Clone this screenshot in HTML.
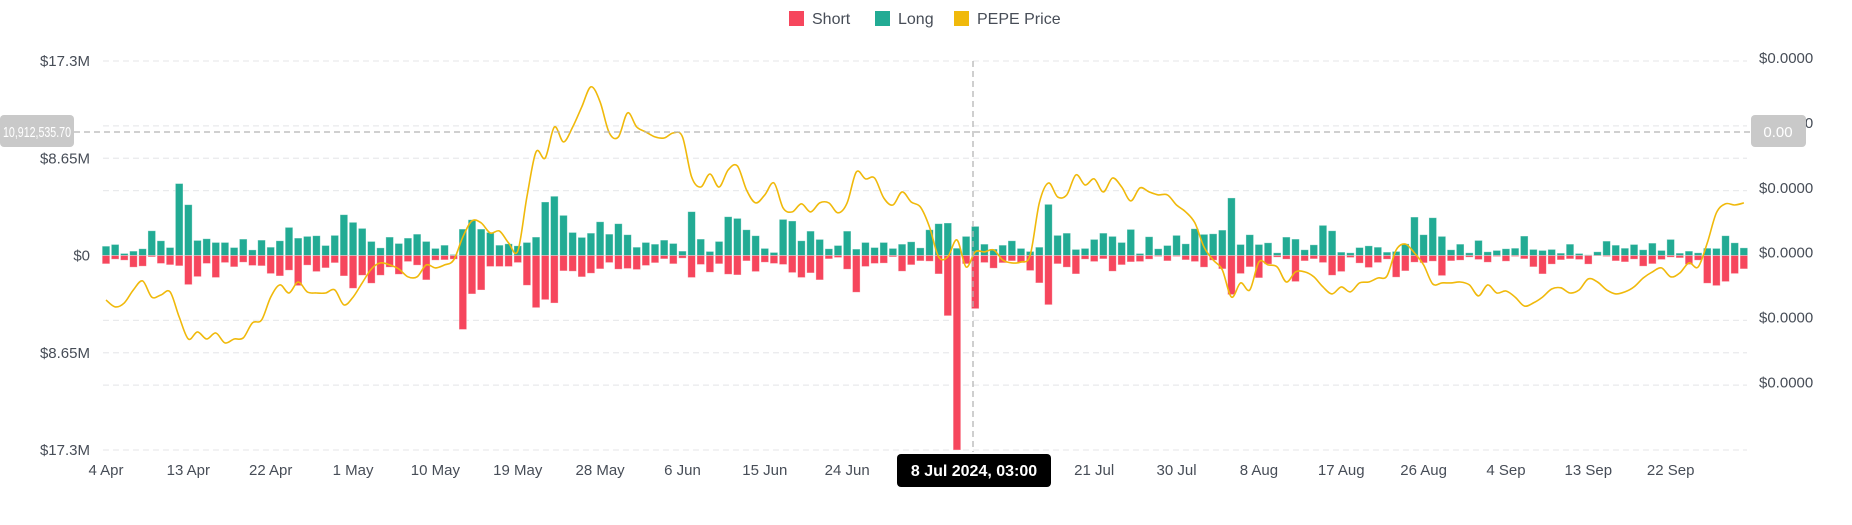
<!DOCTYPE html>
<html><head><meta charset="utf-8">
<style>
html,body{margin:0;padding:0;background:#fff;}
svg{display:block;font-family:"Liberation Sans",sans-serif;}
</style></head>
<body>
<svg id="chart" width="1852" height="525" viewBox="0 0 1852 525" xmlns="http://www.w3.org/2000/svg">
  <g id="grid"></g>
  <g id="bars"></g>
  <g id="line"></g>
  <g id="axes"></g>
  <g>
    <g>
      <rect x="789" y="11" width="15" height="15" fill="#f6465d"/>
      <text x="812" y="24" font-size="16" fill="#474d57">Short</text>
    </g>
    <g>
      <rect x="875" y="11" width="15" height="15" fill="#22ab94"/>
      <text x="898" y="24" font-size="16" fill="#474d57">Long</text>
    </g>
    <g>
      <rect x="954" y="11" width="15" height="15" fill="#f0b90b"/>
      <text x="977" y="24" font-size="16" fill="#474d57">PEPE Price</text>
    </g>
  </g>
  <g>
    <line x1="74" y1="132" x2="1751" y2="132" stroke="#b5b5b5" stroke-width="1.3" stroke-dasharray="6,4"/>
    <line x1="973" y1="61" x2="973" y2="452" stroke="#b5b5b5" stroke-width="1.3" stroke-dasharray="6,4"/>
    <rect x="0" y="115" width="74" height="32" rx="4" fill="#c9c9c9"/>
    <text x="37" y="137" font-size="15" fill="#fff" text-anchor="middle" textLength="68" lengthAdjust="spacingAndGlyphs">10,912,535.70</text>
    <rect x="1751" y="115" width="55" height="32" rx="4" fill="#c9c9c9"/>
    <text x="1778" y="137" font-size="15" fill="#fff" text-anchor="middle">0.00</text>
    <rect x="897" y="454" width="154" height="33" rx="4" fill="#000"/>
    <text x="974" y="476" font-size="16" font-weight="bold" fill="#fff" text-anchor="middle">8 Jul 2024, 03:00</text>
  </g>
</svg>
<script>
// data (values in $M for long/short; price in micro-dollars)
const longVals = [0.83,0.98,0.18,0.39,0.6,2.2,1.31,0.71,6.4,4.52,1.34,1.49,1.16,1.16,0.71,1.46,0.5,1.37,0.74,1.31,2.5,1.55,1.7,1.76,0.89,1.79,3.63,2.95,2.41,1.25,
0.68,1.64,1.07,1.55,1.9,1.25,0.63,0.92,0.09,2.35,3.18,2.35,2.05,0.92,1.04,0.86,1.16,1.64,4.76,5.27,3.57,2.05,1.61,1.99,3.0,1.9,2.83,1.85,0.74,1.16,
1.01,1.37,1.07,0.39,3.9,1.46,0.36,1.25,3.45,3.3,2.29,1.76,0.63,0.27,3.21,3.07,1.31,2.17,1.43,0.6,0.89,2.17,0.57,1.16,0.71,1.16,0.63,1.01,1.22,0.68,
2.29,2.83,2.89,0.65,1.7,2.59,1.01,0.57,0.92,1.31,0.63,0.36,0.74,4.55,1.79,1.99,0.54,0.63,1.43,1.99,1.7,1.16,2.32,0.18,1.67,0.6,0.89,1.79,1.04,2.38,
1.88,1.93,2.26,5.12,0.98,1.85,0.98,1.13,0.24,1.64,1.46,0.51,0.95,2.68,2.2,0.3,0.24,0.71,0.86,0.74,0.3,0.36,1.04,3.42,1.85,3.36,1.7,0.51,1.01,0.24,
1.34,0.33,0.45,0.6,0.65,1.73,0.54,0.45,0.54,0.21,1.01,0.18,0.06,0.33,1.28,0.92,0.65,0.98,0.51,1.1,0.45,1.43,0.21,0.39,0.24,0.65,0.63,1.76,1.13,0.68];
const shortVals = [0.74,0.33,0.42,1.04,0.95,0.12,0.71,0.83,0.92,2.59,1.88,0.71,1.96,0.63,1.01,0.6,0.89,0.92,1.61,1.82,1.31,2.68,0.86,1.43,1.1,0.65,1.82,2.92,1.76,2.47,
1.76,1.04,1.67,0.54,0.86,2.17,0.42,0.39,0.33,6.58,3.42,3.07,0.98,0.98,0.98,0.63,2.65,4.64,3.93,4.23,1.37,1.4,1.9,1.58,1.19,0.63,1.22,1.16,1.25,0.89,
0.65,0.3,0.74,0.24,1.96,0.8,1.49,0.74,1.67,1.73,0.48,1.43,0.6,0.71,0.8,1.52,1.96,1.55,2.17,0.3,0.18,1.22,3.27,0.98,0.71,0.68,0.12,1.4,0.83,0.48,
0.51,1.64,5.36,17.3,0.74,4.73,0.63,1.13,0.65,0.48,0.65,1.34,2.44,4.38,0.74,1.04,1.64,0.33,0.54,0.3,1.4,0.83,0.57,0.54,0.33,0.09,0.48,0.09,0.39,0.54,
1.04,0.42,1.19,3.48,1.61,1.01,1.99,0.77,0.15,0.33,2.32,0.48,0.3,0.63,1.76,1.43,0.18,0.68,1.07,0.63,0.33,1.93,1.37,0.6,0.65,0.51,1.79,0.48,0.42,0.15,
0.36,0.6,0.09,0.51,0.09,0.3,1.01,1.64,0.77,0.39,0.3,0.36,0.77,0.03,0.09,0.48,0.57,0.33,0.95,0.74,0.36,0.15,0.21,0.8,0.42,2.47,2.68,2.32,1.61,1.19];
const priceVals = [7.76,7.45,7.63,8.21,8.61,7.89,7.98,8.12,7.00,6.02,6.34,6.02,6.29,5.85,6.02,6.07,6.74,6.87,7.89,8.43,8.07,8.56,8.12,8.07,8.07,8.21,7.54,7.89,8.52,9.14,
9.41,9.32,9.14,8.79,8.79,9.32,9.19,9.32,9.54,10.57,11.28,11.19,10.74,10.83,10.30,9.94,12.35,14.35,14.08,15.46,14.80,15.46,16.36,17.25,16.58,15.20,15.02,16.09,15.46,15.24,
15.02,14.97,15.20,15.02,13.24,12.79,13.37,12.79,13.55,13.73,12.66,12.08,12.44,12.97,11.86,11.68,12.04,11.68,12.08,12.08,11.64,12.08,13.46,13.15,13.19,12.30,11.99,12.57,12.12,11.90,
11.01,9.68,9.68,10.43,9.23,9.90,9.90,9.99,9.54,9.41,9.45,9.76,12.08,12.97,12.35,12.44,13.33,12.88,13.15,12.57,13.19,12.79,12.17,12.75,12.57,12.44,12.44,11.99,11.68,11.19,
10.12,9.54,9.10,7.89,8.52,8.21,9.45,9.32,9.23,8.56,9.01,9.01,8.79,8.34,8.03,8.34,8.12,8.52,8.56,8.74,8.83,9.99,10.25,9.85,9.32,8.47,8.52,8.52,8.56,8.43,
7.94,8.43,8.07,8.16,7.89,7.49,7.63,7.89,8.25,8.30,8.07,8.21,8.70,8.56,8.21,8.03,8.12,8.34,8.74,9.01,9.19,8.79,8.96,9.41,9.23,10.30,11.64,12.04,11.99,12.08];
const xTickLabels = ["4 Apr","13 Apr","22 Apr","1 May","10 May","19 May","28 May","6 Jun","15 Jun","24 Jun","","","21 Jul","30 Jul","8 Aug","17 Aug","26 Aug","4 Sep","13 Sep","22 Sep"];
const leftTickLabels = ["$17.3M","$8.65M","$0","$8.65M","$17.3M"];
const leftTickValues = [17.3,8.65,0,-8.65,-17.3];
const rightTickValues = [18.40,15.51,12.62,9.74,6.85,3.96];
const rightTickLabels = ["$0.0000","$0.0000","$0.0000","$0.0000","$0.0000","$0.0000"];
const gridValues = [17.3,11.53,8.65,5.77,0,-5.77,-8.65,-11.53,-17.3];

const NS = "http://www.w3.org/2000/svg";
const plotL = 103, plotR = 1747, yTop = 61, yBot = 450;
const vMax = 17.3, pMin = 1.08, pMax = 18.40;
const x0 = 106, dayW = 9.15;
function xDay(i){ return x0 + i*dayW; }
function yVal(v){ return yTop + (vMax - v) / (2*vMax) * (yBot - yTop); }
function yPrice(p){ return yBot - (p - pMin) / (pMax - pMin) * (yBot - yTop); }
function mk(tag, attrs, parent){
  const el = document.createElementNS(NS, tag);
  for (const k in attrs) el.setAttribute(k, attrs[k]);
  parent.appendChild(el);
  return el;
}
const gGrid = document.getElementById('grid'), gBars = document.getElementById('bars'),
      gLine = document.getElementById('line'), gAxes = document.getElementById('axes');

gridValues.forEach(v => {
  const l = mk('line', {x1: plotL, x2: plotR, y1: yVal(v), y2: yVal(v), stroke: '#e9eaec', 'stroke-width': 1.3, 'stroke-dasharray': '6,4'}, gGrid);
  
  
});

longVals.forEach((v, i) => {
  const y = yVal(v), y0 = yVal(0);
  const r = mk('rect', {x: xDay(i) - 3.8, y: y, width: 7.6, height: Math.max(0.5, y0 - y), fill: '#22ab94', stroke: 'rgba(255,255,255,0.45)', 'stroke-width': 0.8}, gBars);
  
  
});
shortVals.forEach((v, i) => {
  const y0 = yVal(0), y = yVal(-v);
  const r = mk('rect', {x: xDay(i) - 3.8, y: y0, width: 7.6, height: Math.max(0.5, y - y0), fill: '#f6465d', stroke: 'rgba(255,255,255,0.45)', 'stroke-width': 0.8}, gBars);
  
  
});

// smooth price line (Catmull-Rom)
const pts = priceVals.map((p, i) => [xDay(i), yPrice(p)]);
let d = 'M' + pts[0][0] + ',' + pts[0][1];
for (let i = 0; i < pts.length - 1; i++) {
  const p0 = pts[Math.max(0, i-1)], p1 = pts[i], p2 = pts[i+1], p3 = pts[Math.min(pts.length-1, i+2)];
  const c1x = p1[0] + (p2[0]-p0[0])/6, c1y = p1[1] + (p2[1]-p0[1])/6;
  const c2x = p2[0] - (p3[0]-p1[0])/6, c2y = p2[1] - (p3[1]-p1[1])/6;
  d += ' C' + c1x.toFixed(1) + ',' + c1y.toFixed(1) + ' ' + c2x.toFixed(1) + ',' + c2y.toFixed(1) + ' ' + p2[0].toFixed(1) + ',' + p2[1].toFixed(1);
}
const path = mk('path', {d: d, fill: 'none', stroke: '#f0b90b', 'stroke-width': 1.6}, gLine);



leftTickValues.forEach((v, i) => {
  const t = mk('text', {x: 90, y: yVal(v) + 5, 'font-size': 15, fill: '#474d57', 'text-anchor': 'end'}, gAxes);
  t.textContent = leftTickLabels[i];
  
  
});
rightTickValues.forEach((p, i) => {
  const t = mk('text', {x: 1759, y: yPrice(p) + 2, 'font-size': 15, fill: '#474d57'}, gAxes);
  t.textContent = rightTickLabels[i];
  
  
});
xTickLabels.forEach((s, i) => {
  if (!s) return;
  const t = mk('text', {x: xDay(i*9), y: 475, 'font-size': 15, fill: '#474d57', 'text-anchor': 'middle'}, gAxes);
  t.textContent = s;
  
  
});
</script>
</body></html>
